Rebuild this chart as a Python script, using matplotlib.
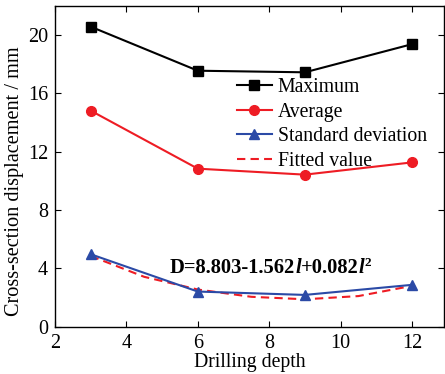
import matplotlib
matplotlib.use('Agg')
import matplotlib.pyplot as plt

plt.rcParams['font.family'] = ['Liberation Serif', 'DejaVu Serif']

depth = [3, 6, 9, 12]
maximum = [20.58, 17.56, 17.45, 19.38]
average = [14.82, 10.84, 10.43, 11.27]
std_dev = [4.97, 2.41, 2.18, 2.87]

# fitted curve
fit_depth = [3, 4.5, 6, 7.5, 9, 10.5, 12]
fit_value = [4.85, 3.42, 2.55, 2.05, 1.88, 2.1, 2.8]

fig = plt.figure(figsize=(4.45, 3.74), dpi=100)
ax = fig.add_axes([0.1236, 0.1265, 0.8744, 0.8575])

ax.plot(depth, maximum, color='black', marker='s', ms=6.5, lw=1.5, label='Maximum')
ax.plot(depth, average, color='#ee1c24', marker='o', ms=7, lw=1.5, label='Average')
ax.plot(fit_depth, fit_value, color='#ee1c24', ls=(0, (4, 2.5)), lw=1.5, zorder=2)
ax.plot(depth, std_dev, color='#2b4aa6', marker='^', ms=7.5, lw=1.5, label='Standard deviation', zorder=3)
ax.plot([], [], color='#ee1c24', ls=(0, (4, 2.5)), lw=1.5, label='Fitted value')

ax.set_xlim(2, 12.9)
ax.set_ylim(0, 22)
ax.set_xticks([2, 4, 6, 8, 10, 12])
ax.set_yticks([0, 4, 8, 12, 16, 20])
ax.tick_params(direction='in', top=True, right=True, labelsize=14.5, length=4, width=0.8, pad=5)
for s in ax.spines.values():
    s.set_linewidth(1.0)

ax.set_xlabel('Drilling depth', fontsize=14.2, labelpad=0)
ax.set_ylabel('Cross-section displacement / mm', fontsize=14.6)
ax.yaxis.set_label_coords(-0.08, 0.455)

ax.legend(loc='upper left', bbox_to_anchor=(0.468, 0.775), frameon=False, fontsize=14.2,
          handlelength=1.75, handletextpad=0.3, labelspacing=0.28, borderpad=0, borderaxespad=0)

# equation, built piece by piece so l stays italic and hyphens stay hyphens
t1 = ax.text(5.22, 3.69, 'D=8.803-1.562', fontsize=14.8, fontweight='bold', va='baseline')
t2 = ax.annotate('l', xy=(1, 0), xycoords=t1, va='bottom', fontsize=14.8,
                 fontweight='bold', fontstyle='italic')
t3 = ax.annotate('+0.082', xy=(1, 0), xycoords=t2, va='bottom', fontsize=14.8, fontweight='bold')
t4 = ax.annotate('l', xy=(1, 0), xycoords=t3, va='bottom', fontsize=14.8,
                 fontweight='bold', fontstyle='italic')
ax.annotate('2', xy=(1, 1), xycoords=t4, va='top', fontsize=9.5, fontweight='bold',
            xytext=(0.3, 1), textcoords='offset points')

fig.savefig('out.png', dpi=100)
